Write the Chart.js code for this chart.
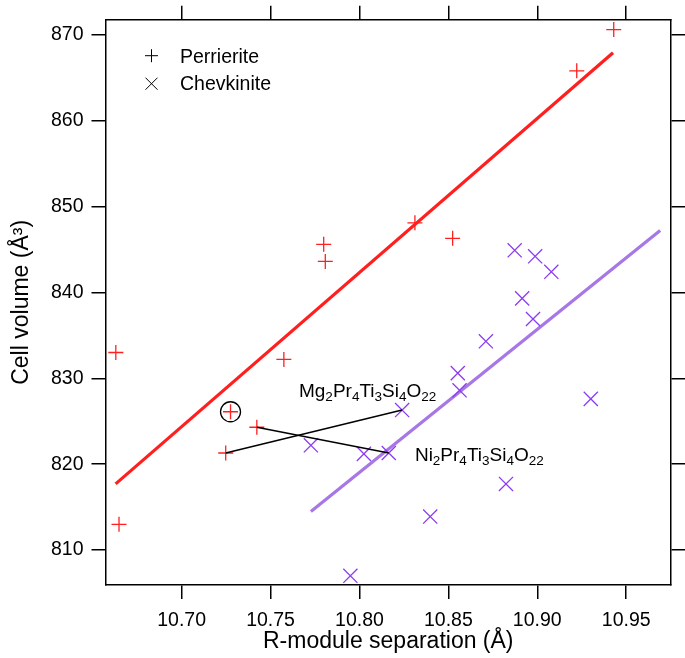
<!DOCTYPE html>
<html>
<head>
<meta charset="utf-8">
<script src="https://cdn.jsdelivr.net/npm/chart.js@4.4.1/dist/chart.umd.min.js"></script>
<style>
  body { margin: 0; background: #fff; }
  #wrap { width: 685px; height: 658px; }
</style>
</head>
<body>
<div id="wrap"><canvas id="cellChart" width="685" height="658"></canvas></div>
<script>
// Perrierite (+) measurements
const perrieriteX = [10.6630, 10.6648, 10.7248, 10.7275, 10.7423, 10.7575, 10.7799, 10.7808, 10.8312, 10.8524, 10.9222, 10.9430];
const perrieriteY = [833.0, 813.0, 821.3, 826.1, 824.3, 832.2, 845.6, 843.6, 848.1, 846.3, 865.8, 870.6];

// Chevkinite (x) measurements
const chevkiniteX = [10.7727, 10.7949, 10.8025, 10.8165, 10.8240, 10.8398, 10.8553, 10.8563, 10.8711, 10.8824, 10.8873, 10.8915, 10.8976, 10.8988, 10.9079, 10.9301];
const chevkiniteY = [822.2, 807.0, 821.2, 821.3, 826.3, 813.9, 830.6, 828.6, 834.3, 817.7, 844.9, 839.3, 836.9, 844.2, 842.4, 827.6];

// fitted trend lines (end points)
const perrFitX = [10.6629, 10.9426];
const perrFitY = [817.7, 867.9];
const chevFitX = [10.7727, 10.9691];
const chevFitY = [814.5, 847.2];

// axis ranges and ticks
const xRange = [10.6572, 10.9752];
const yRange = [805.93, 871.75];
const xStep = 0.05;
const yStep = 10;

// labelled compounds: formula, point index in perrierite, point index in chevkinite
const compoundNames = ['Mg2Pr4Ti3Si4O22', 'Ni2Pr4Ti3Si4O22'];
const compoundPerr = [2, 4];
const compoundChev = [4, 3];
const circledPoint = 3;

const FONT = "'Liberation Sans', Arial, sans-serif";
const RED = '#ff1f1f';
const PURPLE = '#8b3cf2';
const LILAC = '#a877e6';

function toPoints(xs, ys) {
    return xs.map((x, i) => ({ x: x, y: ys[i] }));
}

const perrPts = toPoints(perrieriteX, perrieriteY);
const chevPts = toPoints(chevkiniteX, chevkiniteY);

// draws a chemical formula with digits as subscripts
function drawFormula(ctx, text, x, y) {
    const parts = text.match(/[A-Za-z]+|\d+/g);
    let cx = x;
    parts.forEach(p => {
        const sub = /\d/.test(p);
        ctx.font = (sub ? '13.5px ' : '19px ') + FONT;
        ctx.fillText(p, cx, sub ? y + 4 : y);
        cx += ctx.measureText(p).width;
    });
}

const legendPlugin = {
    id: 'cornerLegend',
    afterDraw(chart) {
        const { ctx, chartArea } = chart;
        const items = [
            { text: chart.data.datasets[0].label, style: 'cross', r: 6.5 },
            { text: chart.data.datasets[1].label, style: 'crossRot', r: 8.5 }
        ];
        ctx.save();
        ctx.strokeStyle = '#000';
        ctx.fillStyle = '#000';
        ctx.font = '19.5px ' + FONT;
        ctx.textBaseline = 'alphabetic';
        items.forEach((it, i) => {
            const my = chartArea.top + 36 + i * 28;
            Chart.helpers.drawPoint(ctx, { pointStyle: it.style, radius: it.r, borderWidth: 1.2, rotation: 0 }, chartArea.left + 46, my);
            ctx.fillText(it.text, chartArea.left + 74.5, chartArea.top + 43.3 + i * 27);
        });
        ctx.restore();
    }
};

const formulaPlugin = {
    id: 'formulaLabels',
    afterDatasetsDraw(chart, args, opts) {
        const { ctx, scales } = chart;
        ctx.save();
        ctx.fillStyle = '#000';
        ctx.textBaseline = 'alphabetic';
        compoundNames.forEach((name, i) => {
            const px = scales.x.getPixelForValue(opts.x[i]);
            const py = scales.y.getPixelForValue(opts.y[i]);
            drawFormula(ctx, name, px, py);
        });
        ctx.restore();
    }
};

function frameAxis(position, size, range, step, showLabels) {
    const isX = position === 'top' || position === 'bottom';
    return {
        type: 'linear',
        position: position,
        min: range[0],
        max: range[1],
        afterFit: s => { if (isX) { s.height = size; } else { s.width = size; } },
        border: { display: true, color: '#000', width: 1.5 },
        grid: { drawOnChartArea: false, drawTicks: true, tickLength: 14, tickColor: '#000', lineWidth: 1.5 },
        ticks: {
            stepSize: step,
            includeBounds: false,
            color: '#000',
            font: { family: FONT, size: 19.5 },
            padding: isX ? 10 : 8,
            maxRotation: 0,
            autoSkip: false,
            callback: v => showLabels ? (isX ? v.toFixed(2) : v.toFixed(0)) : ''
        }
    };
}

function createCellChart() {
    const ctx = document.getElementById('cellChart').getContext('2d');
    const xAxis = frameAxis('bottom', 73, xRange, xStep, true);
    xAxis.title = { display: true, text: 'R-module separation (Å)', color: '#000', font: { family: FONT, size: 23 }, padding: { top: 0, bottom: 3 } };
    const yAxis = frameAxis('left', 105.5, yRange, yStep, true);
    yAxis.title = { display: true, text: 'Cell volume (Å³)', color: '#000', font: { family: FONT, size: 23 }, padding: { top: 8, bottom: 0 } };

    new Chart(ctx, {
        type: 'scatter',
        data: {
            datasets: [
                { label: 'Perrierite', data: perrPts, pointStyle: 'cross', pointRadius: 7.5, borderColor: RED, pointBorderWidth: 1.3, order: 1 },
                { label: 'Chevkinite', data: chevPts, pointStyle: 'crossRot', pointRadius: 10, borderColor: PURPLE, pointBorderWidth: 1.3, order: 2 },
                { label: 'perr fit', data: toPoints(perrFitX, perrFitY), showLine: true, borderColor: RED, borderWidth: 3.2, pointRadius: 0, order: 3 },
                { label: 'chev fit', data: toPoints(chevFitX, chevFitY), showLine: true, borderColor: LILAC, borderWidth: 3.2, pointRadius: 0, order: 4 },
                { label: 'Mg link', data: [perrPts[compoundPerr[0]], chevPts[compoundChev[0]]], showLine: true, borderColor: '#000', borderWidth: 1.5, pointRadius: 0, order: 0 },
                { label: 'Ni link', data: [perrPts[compoundPerr[1]], chevPts[compoundChev[1]]], showLine: true, borderColor: '#000', borderWidth: 1.5, pointRadius: 0, order: 0 },
                { label: 'circled', data: [perrPts[circledPoint]], pointStyle: 'circle', pointRadius: 10, borderColor: '#000', backgroundColor: 'rgba(0,0,0,0)', pointBorderWidth: 1.3, order: 0 }
            ]
        },
        options: {
            responsive: false,
            devicePixelRatio: 1,
            animation: false,
            layout: { padding: 0 },
            plugins: {
                legend: { display: false },
                tooltip: { enabled: false },
                formulaLabels: { x: [10.766, 10.8312], y: [827.87, 820.36] }
            },
            scales: {
                x: xAxis,
                x2: frameAxis('top', 15, xRange, xStep, false),
                y: yAxis,
                y2: frameAxis('right', 14, yRange, yStep, false)
            }
        },
        plugins: [legendPlugin, formulaPlugin]
    });
}

createCellChart();
</script>
</body>
</html>
